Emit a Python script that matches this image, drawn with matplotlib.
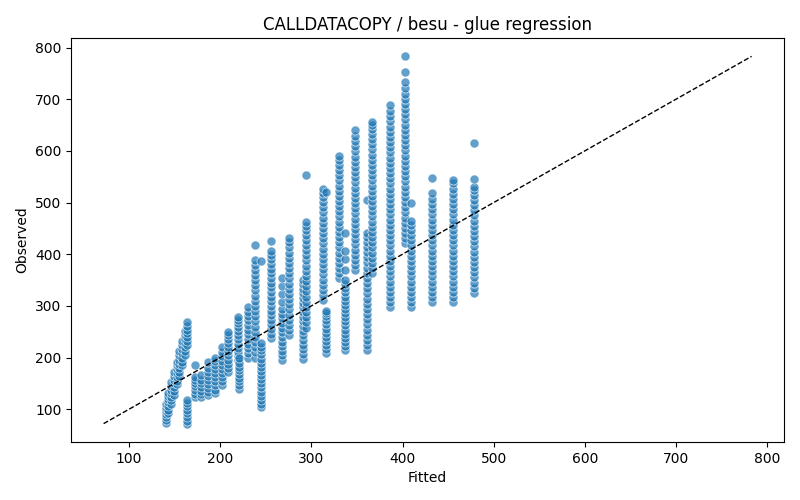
import matplotlib
matplotlib.use("Agg")
import matplotlib.pyplot as plt
import numpy as np

# Fitted level of each column and the observed values read for that column
fitted_levels = [140, 143, 146, 149, 152, 155, 158, 161, 164, 164,
                 172, 179, 187, 194, 202, 209, 219, 221, 230, 238,
                 245, 256, 268, 275, 291, 294, 313, 316, 330, 337,
                 348, 361, 367, 386, 403, 409, 432, 455, 478]

observed_by_level = [
    [73, 79, 85, 91, 97, 103, 110],
    [92, 99, 106, 113, 120, 126, 132],
    [110, 117, 124, 131, 138, 145, 152],
    [128, 135, 142, 150, 157, 165, 172],
    [148, 155, 162, 170, 177, 185, 192],
    [165, 172, 180, 188, 196, 204, 212],
    [185, 192, 200, 208, 216, 224, 232],
    [205, 212, 220, 228, 236, 244, 252],
    [225, 232, 240, 247, 254, 261, 268],
    [72, 78, 85, 92, 99, 106, 112, 117],
    [123, 130, 137, 144, 151, 157, 162, 185],
    [123, 129, 136, 143, 150, 157, 166],
    [127, 134, 141, 148, 156, 164, 172, 180, 191],
    [131, 138, 146, 154, 162, 170, 178, 186, 193, 200],
    [146, 154, 162, 170, 178, 186, 194, 202, 211, 220],
    [172, 180, 188, 196, 204, 212, 220, 228, 236, 243, 249],
    [195, 203, 211, 219, 227, 235, 243, 251, 259, 266, 272, 278],
    [140, 147, 154, 161, 168, 175, 182, 190, 200],
    [200, 209, 218, 227, 236, 245, 254, 263, 272, 281, 289, 297],
    [200, 210, 220, 230, 240, 250, 260, 270, 280, 290, 300, 310, 320, 330,
     340, 350, 360, 370, 380, 388, 417],
    [104, 110, 118, 126, 134, 142, 150, 158, 166, 174, 182, 190, 198, 206,
     214, 221, 228, 386],
    [237, 246, 255, 264, 273, 282, 291, 300, 309, 318, 327, 336, 345, 354,
     363, 372, 381, 390, 399, 407, 425],
    [195, 204, 213, 222, 231, 240, 249, 258, 267, 276, 285, 294, 307, 322,
     338, 353],
    [243, 253, 263, 273, 283, 293, 303, 313, 323, 333, 343, 353, 363, 373,
     383, 393, 403, 413, 423, 432],
    [198, 207, 216, 225, 234, 243, 252, 261, 270, 279, 288, 297, 306, 315,
     324, 333, 342, 350],
    [258, 268, 278, 288, 298, 308, 318, 328, 338, 348, 358, 368, 378, 388,
     398, 408, 418, 428, 438, 447, 455, 462, 553],
    [311, 321, 331, 341, 351, 361, 371, 381, 391, 401, 411, 421, 431, 441,
     451, 461, 471, 481, 491, 501, 511, 519, 527],
    [208, 216, 224, 232, 240, 248, 256, 264, 272, 280, 286, 291, 520],
    [353, 363, 373, 383, 393, 403, 413, 423, 433, 443, 453, 463, 473, 483,
     493, 503, 513, 523, 533, 543, 553, 563, 573, 583, 591],
    [214, 222, 230, 238, 246, 254, 262, 270, 278, 286, 294, 302, 310, 318,
     326, 334, 342, 350, 370, 390, 407, 442],
    [369, 379, 389, 399, 409, 419, 429, 439, 449, 459, 469, 479, 489, 499,
     509, 519, 529, 539, 549, 559, 569, 579, 589, 599, 609, 619, 629, 640],
    [214, 224, 234, 244, 254, 264, 274, 284, 294, 304, 314, 324, 334, 344,
     354, 364, 374, 384, 394, 404, 414, 424, 433, 442, 505],
    [363, 373, 383, 393, 403, 413, 423, 433, 443, 453, 463, 473, 483, 493,
     503, 513, 523, 533, 543, 553, 563, 573, 583, 593, 603, 613, 623, 633,
     643, 650, 655],
    [297, 307, 317, 327, 337, 347, 357, 367, 377, 387, 397, 407, 417, 427,
     437, 447, 457, 467, 477, 487, 497, 507, 517, 527, 537, 547, 557, 567,
     577, 587, 597, 607, 617, 627, 637, 647, 657, 667, 677, 688],
    [421, 431, 441, 451, 461, 471, 481, 491, 501, 511, 521, 531, 541, 551,
     561, 571, 581, 591, 601, 611, 621, 631, 641, 651, 661, 671, 681, 691,
     701, 711, 721, 733, 752, 783],
    [297, 307, 317, 327, 337, 347, 357, 367, 377, 387, 397, 407, 417, 427,
     437, 447, 457, 465, 500],
    [307, 317, 327, 337, 347, 357, 367, 377, 387, 397, 407, 417, 427, 437,
     447, 457, 467, 477, 487, 497, 507, 518, 547],
    [307, 317, 327, 337, 347, 357, 367, 377, 387, 397, 407, 417, 427, 437,
     447, 457, 467, 477, 487, 497, 507, 517, 527, 537, 543],
    [325, 335, 345, 355, 365, 375, 385, 395, 405, 415, 425, 435, 445, 455,
     465, 475, 485, 495, 505, 515, 525, 530, 545, 615],
]

title = "CALLDATACOPY / besu - glue regression"
x_label = "Fitted"
y_label = "Observed"

fitted = np.concatenate([[f] * len(obs) for f, obs in zip(fitted_levels, observed_by_level)])
observed = np.concatenate([np.asarray(o, dtype=float) for o in observed_by_level])

fig, ax = plt.subplots(figsize=(8, 5), dpi=100)
ax.scatter(fitted, observed, s=42, color="#1f77b4", alpha=0.7,
           edgecolors="white", linewidths=0.55)

lo = min(fitted.min(), observed.min())
hi = max(fitted.max(), observed.max())
ax.plot([lo, hi], [lo, hi], "k--", linewidth=1)

ax.set_title(title)
ax.set_xlabel(x_label)
ax.set_ylabel(y_label)
fig.subplots_adjust(left=0.089, right=0.98, top=0.924, bottom=0.116)
fig.savefig("out.png", dpi=100)
